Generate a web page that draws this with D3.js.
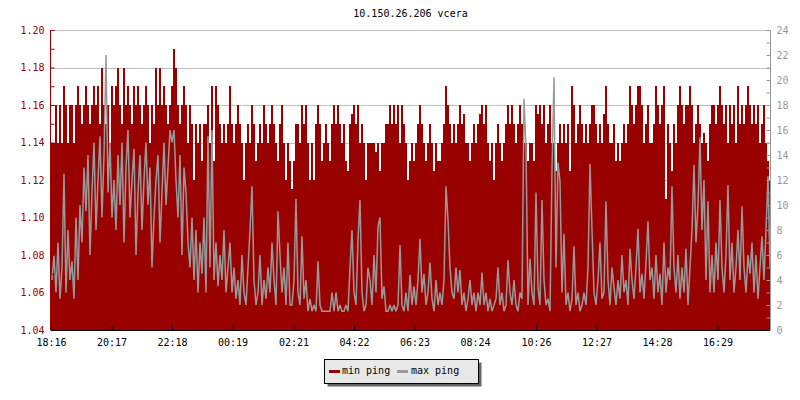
<!DOCTYPE html>
<html><head><meta charset="utf-8">
<script src="https://cdn.jsdelivr.net/npm/d3@7"></script>
<style>
body{margin:0;background:#fff;}
text{font-family:"DejaVu Sans Mono",monospace;font-size:10px;}
</style></head>
<body><svg id="c" width="800" height="400"></svg>
<script>
// ---- data (one sample every 4 minutes, starting 18:16) ----
const stepMinutes = 4;
const minPing = [
1.14,1.14,1.16,1.14,1.16,1.14,1.17,1.16,1.14,1.16,1.16,1.14,1.16,1.17,1.16,1.15,1.16,1.17,1.16,1.15,1.16,1.17,1.16,1.17,1.15,1.18,1.16,1.15,1.16,1.14,1.17,
1.16,1.17,1.18,1.16,1.15,1.18,1.16,1.17,1.16,1.15,1.17,1.16,1.17,1.16,1.15,1.16,1.17,1.16,1.14,1.16,1.15,1.18,1.16,1.18,1.16,1.17,1.16,1.15,1.16,
1.17,1.19,1.18,1.16,1.15,1.16,1.17,1.16,1.14,1.16,1.15,1.12,1.15,1.14,1.15,1.13,1.15,1.15,1.16,1.14,1.17,1.13,1.17,1.16,1.15,1.14,1.15,1.14,1.15,1.17,
1.15,1.14,1.15,1.16,1.15,1.14,1.12,1.14,1.15,1.14,1.16,1.15,1.13,1.14,1.15,1.14,1.16,1.15,1.14,1.15,1.16,1.15,1.14,1.13,1.15,1.16,1.14,1.12,1.14,1.13,
1.115,1.13,1.15,1.15,1.14,1.16,1.15,1.16,1.14,1.12,1.14,1.12,1.15,1.16,1.15,1.13,1.14,1.15,1.14,1.13,1.15,1.16,1.15,1.16,1.15,1.14,1.15,1.13,1.125,1.15,
1.155,1.16,1.15,1.16,1.14,1.15,1.14,1.12,1.14,1.14,1.14,1.14,1.135,1.14,1.125,1.14,1.14,1.15,1.15,1.16,1.15,1.16,1.15,1.16,1.14,1.16,1.15,1.14,1.12,1.13,
1.14,1.13,1.14,1.15,1.16,1.15,1.14,1.13,1.14,1.15,1.14,1.125,1.14,1.13,1.13,1.14,1.15,1.17,1.16,1.15,1.14,1.15,1.14,1.15,1.16,1.15,1.155,1.14,1.14,1.13,
1.14,1.15,1.14,1.15,1.155,1.16,1.15,1.16,1.14,1.13,1.14,1.12,1.14,1.15,1.14,1.13,1.14,1.15,1.16,1.15,1.16,1.15,1.14,1.15,1.16,1.15,1.14,1.14,1.13,1.14,
1.14,1.13,1.16,1.155,1.16,1.15,1.16,1.14,1.15,1.16,1.14,1.14,1.125,1.14,1.15,1.14,1.15,1.14,1.15,1.125,1.17,1.16,1.14,1.15,1.16,1.15,1.14,1.15,1.14,1.15,
1.16,1.16,1.15,1.14,1.15,1.14,1.155,1.17,1.15,1.14,1.14,1.15,1.13,1.14,1.13,1.14,1.15,1.14,1.15,1.17,1.16,1.15,1.16,1.17,1.17,1.16,1.14,1.15,1.16,1.14,
1.14,1.15,1.17,1.16,1.15,1.16,1.17,1.11,1.15,1.14,1.125,1.15,1.14,1.16,1.17,1.16,1.15,1.16,1.16,1.17,1.16,1.14,1.15,1.16,1.15,1.14,1.145,1.14,1.13,1.15,
1.16,1.16,1.15,1.16,1.17,1.16,1.15,1.16,1.14,1.16,1.15,1.16,1.14,1.17,1.15,1.16,1.15,1.16,1.17,1.16,1.15,1.16,1.15,1.16,1.14,1.15,1.16,1.14,1.13,1.12
];
const maxPing = [
4,6,3,7,2.5,5,12.5,3,8,4,5.5,2.5,9,4,10,7,13,9.5,14,6,11,15,8,12,15.5,9,14,22,11,15,9,
12,8,14,10,15,7,13,16,9,12,14.5,6,11,14,8,12,15,10,13,5,9,12,14,7,11,15,10,13,16,
15,16,12,9,14,6,13,11,7,5,9,4,8,3,7,4.5,9,3,15.5,5,16,4,7,3.5,6,4,8,3,5,7,
3,5,2.5,4,2,6,3,2,5,8,11.5,4,2,3,6,2,4,2.5,5,3,7,4,2,9.5,6,3,5,2,7,2,
2,4,10.5,3,2,7.5,2.5,4,1.5,2.5,1.5,2,1.5,5.5,2,1.5,1.5,1.5,1.5,1.5,3,1.5,3,1.5,2,1.5,1.5,2,1.5,5,
8,3,2,7.2,10.4,3,1.5,2,5,4,2,6,3,8.3,9,2.5,3.5,1.5,1.5,2,1.5,2,1.5,2,6.8,2,1.5,3,1.5,4.4,
2,3.5,2,4,7.3,3,4.5,2,3,5.4,2.5,1.5,4,2,3,2,4,11.5,8.8,5,3,2.5,5,3,4.8,2,3,1.5,2.5,4,
2,3,1.5,3,2,4.6,2,3,1.5,2.5,1.5,2,2.5,5,2,3,1.5,2,5.6,3,2,4,2,1.5,3,2.5,18.5,14.5,2,5.7,
3,2,11,3.4,2,10.4,4,2,2.5,1.5,12.8,20.2,5,13.4,11.9,3,7.7,2,3,1.5,2.5,6.7,2,3,1.5,2,3,2,5,13.3,
8,3,2,4,7,2.5,3,10.3,4,2,5,3.4,2,4,2.5,6,3,4,2,6.5,4,2.5,5,8.1,3,4.5,2.5,5.4,8.7,4,
5,2.5,6,3,4.5,2,7,3,5,4,11.5,5,3,6,2.5,5,3,6.5,2,5,8,13.2,7,10,15.4,8,12,4,10.3,3,
6,3,7,4,10.4,5,3,6,11.6,4,7,3,5,8,4,9.9,5,3,6,4.5,7,3,6,2.5,5,7.5,4,8,12.3,5
];
const leftTicks = [1.04,1.05,1.06,1.07,1.08,1.09,1.10,1.11,1.12,1.13,1.14,1.15,1.16,1.17,1.18,1.19,1.20];
const leftLabels = ["1.04","","1.06","","1.08","","1.10","","1.12","","1.14","","1.16","","1.18","","1.20"];
const rightTicks = d3.range(0,25,1);
const rightLabels = rightTicks.map(v => v % 2 === 0 ? String(v) : "");
const gridValues = [1.06,1.08,1.10,1.12,1.14,1.16,1.18,1.20];
const timeTickMinutes = [0,121,242,363,485,606,727,848,970,1091,1212,1333];
const timeLabels = ["18:16","20:17","22:18","00:19","02:21","04:22","06:23","08:24","10:26","12:27","14:28","16:29"];
const seriesNames = ["min ping","max ping"];
const seriesColors = ["#990000","#999999"];
const title = "10.150.26.206 vcera";

// ---- layout ----
const L = 51, R = 770, T = 30, B = 330;
const svg = d3.select("#c");
const x = d3.scaleLinear().domain([0, 1438]).range([L, R]);
const yL = d3.scaleLinear().domain([1.04, 1.20]).range([B, T]);
const yR = d3.scaleLinear().domain([0, 24]).range([B, T]);

const minData = minPing.map((v,i)=>({t:i*stepMinutes, v}));
minData.push({t:1438, v:minPing[minPing.length-1]});
const maxData = maxPing.map((v,i)=>({t:i*stepMinutes + 2, v}));

svg.append("text").attr("x",(L+R)/2).attr("y",17).attr("text-anchor","middle").attr("fill","#000").text(title);

// grid
svg.append("g").selectAll("line").data(gridValues).join("line")
  .attr("x1",L).attr("x2",R)
  .attr("y1",d=>Math.round(yL(d))+0.5).attr("y2",d=>Math.round(yL(d))+0.5)
  .attr("stroke","#c0c0c0").attr("stroke-width",1);

// min ping area
svg.append("path").datum(minData)
  .attr("d", d3.area().x(d=>x(d.t)).y0(B).y1(d=>Math.round(yL(d.v))).curve(d3.curveStepAfter))
  .attr("fill",seriesColors[0]).attr("shape-rendering","crispEdges");

// max ping line
svg.append("path").datum(maxData)
  .attr("d", d3.line().x(d=>x(d.t)).y(d=>yR(d.v)).curve(d3.curveLinear))
  .attr("fill","none").attr("stroke",seriesColors[1]).attr("stroke-width",1.5)
  .attr("stroke-linejoin","miter").attr("stroke-miterlimit",2);

// axes
const axL = svg.append("g").attr("transform",`translate(${L-0.5},0)`)
  .call(d3.axisLeft(yL).tickValues(leftTicks).tickSize(-4).tickPadding(6)
    .tickFormat((d,i)=>leftLabels[i]));
axL.selectAll("path,line").attr("stroke",seriesColors[0]);
axL.selectAll("text").attr("fill",seriesColors[0]);
axL.select(".domain").attr("d",`M0,${T}V${B}`);

const axR = svg.append("g").attr("transform",`translate(${R+0.5},0)`)
  .call(d3.axisRight(yR).tickValues(rightTicks).tickSize(-4).tickPadding(6)
    .tickFormat((d,i)=>rightLabels[i]));
axR.selectAll("path,line").attr("stroke","#999");
axR.selectAll("text").attr("fill","#999");
axR.select(".domain").attr("d",`M0,${T}V${B}`);

const axB = svg.append("g").attr("transform",`translate(0,${B+0.5})`)
  .call(d3.axisBottom(x).tickValues(timeTickMinutes).tickSize(-5).tickPadding(8)
    .tickFormat((d,i)=>timeLabels[i]));
axB.selectAll("path,line").attr("stroke","#000");
axB.selectAll("text").attr("fill","#000");
axB.select(".domain").attr("d",`M${L},0H${R}`);
svg.selectAll("g text").style("font-family","DejaVu Sans Mono").style("font-size","10px");

// legend
const lg = svg.append("g");
lg.append("rect").attr("x",327.5).attr("y",362.5).attr("width",154).attr("height",24).attr("fill","#666");
lg.append("rect").attr("x",324.5).attr("y",359.5).attr("width",154).attr("height",24).attr("fill","#e8e8e8").attr("stroke","#000");
const lx = [329, 397], tx = [342, 411];
seriesNames.forEach((n,i)=>{
  lg.append("rect").attr("x",lx[i]).attr("y",370).attr("width",11).attr("height",3).attr("fill",seriesColors[i]);
  lg.append("text").attr("x",tx[i]).attr("y",374).attr("fill","#000").text(n);
});
</script></body></html>
